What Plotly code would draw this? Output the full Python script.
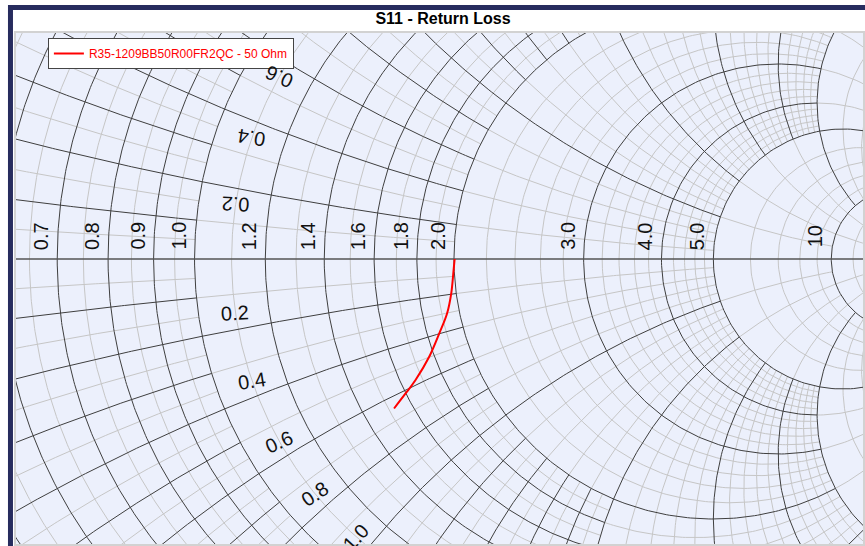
import numpy as np
import plotly.graph_objects as go

# ---------------- data ----------------
TITLE = "S11 - Return Loss"
SERIES_NAME = "R35-1209BB50R00FR2QC - 50 Ohm"
Z0 = 50.0
# impedance (ohms)
R_OHM = [100.2, 99.8, 98.6, 96.5, 93.2, 88.7, 83.4, 80.0, 76.1]
X_OHM = [0.0, -3.4, -9.7, -15.1, -19.8, -24.9, -28.9, -30.7, -32.5]

# Smith grid zones (normalised values) and grid steps inside each zone
ZONE_EDGES = [0, 1, 2, 5, 10, 20, 50, np.inf]
ZONE_MAJOR = [0.1, 0.2, 1, 5, 10, 10, 50]
ZONE_MINOR = [0.05, 0.1, 0.2, 1, 2, 5, 50]
R_LABELS = [0.7, 0.8, 0.9, 1.0, 1.2, 1.4, 1.6, 1.8, 2.0, 3.0, 4.0, 5.0, 10]
X_LABELS = [0.2, 0.4, 0.6, 0.8, 1.0]
X_LABEL_TILT = [3, 9, 24, 34, 48]   # text tilt (deg) of the reactance labels

# ---------------- view ----------------
W, H = 865, 546
PX = 780.0             # pixels per unit of reflection coefficient
CX, CY = 195.0, 259.0  # pixel position of gamma = 0
L, T, B = 16, 33, 544  # plot area edges (px)
XR = [(L - CX) / PX, (W - CX) / PX]
YR = [-(B - CY) / PX, (CY - T) / PX]

FONT = "Liberation Sans, Arial, sans-serif"
MAJOR_C = "#3f3f3f"
MINOR_C = "#c6c6c6"


def gam(r, x):
    z = np.asarray(r) + 1j * np.asarray(x)
    return (z - 1) / (z + 1)


def zone_of(v):
    i = 0
    for k in range(len(ZONE_EDGES) - 1):
        if ZONE_EDGES[k] <= v + 1e-9:
            i = k
    return i


def mult(v, s):
    q = v / s
    return abs(q - round(q)) < 1e-6


def visible(g):
    m = 0.01
    return np.any((g.real > XR[0] - m) & (g.real < XR[1] + m) &
                  (g.imag > YR[0] - m) & (g.imag < YR[1] + m))


def seg_r(r, xa, xb):
    ta, tb = np.arctan(xa / (r + 1)), np.arctan(xb / (r + 1))
    n = int(np.clip(abs(tb - ta) * 2 / (r + 1) * PX / 3, 8, 500))
    t = np.linspace(ta, tb, n)
    return gam(r, (r + 1) * np.tan(t))


def seg_x(v, ra, rb):
    s = np.sign(v)
    a = abs(v)
    ta, tb = np.arctan(a / (ra + 1)), np.arctan(a / (rb + 1))
    n = int(np.clip(abs(tb - ta) * 2 / a * PX / 3, 8, 500))
    t = np.linspace(ta, tb, n)
    r = a / np.maximum(np.tan(t), 1e-12) - 1
    return gam(r, s * a)


# candidate grid values
cands = set()
for i in range(len(ZONE_EDGES) - 2):
    s = ZONE_MINOR[i]
    for v in np.arange(ZONE_EDGES[i], ZONE_EDGES[i + 1] + s / 2, s):
        v = round(float(v), 6)
        if v > 0:
            cands.add(v)
cands = sorted(cands)

lines = {"major": ([], []), "minor": ([], [])}


def add(g, kind):
    if not visible(g):
        return
    xs, ys = lines[kind]
    xs.extend(np.round(g.real, 5).tolist() + [None])
    ys.extend(np.round(g.imag, 5).tolist() + [None])


nz = len(ZONE_EDGES) - 1
for v in cands:
    zv = zone_of(v)
    for j in range(nz):
        k = max(zv, j)
        if not mult(v, ZONE_MINOR[k]):
            continue
        kind = "major" if mult(v, ZONE_MAJOR[k]) else "minor"
        a, b = ZONE_EDGES[j], ZONE_EDGES[j + 1]
        # resistance circle v, reactance range of zone j
        add(seg_r(v, a, b), kind)
        add(seg_r(v, -b, -a), kind)
        # reactance arcs +-v, resistance range of zone j
        add(seg_x(v, a, b), kind)
        add(seg_x(-v, a, b), kind)

fig = go.Figure()
fig.add_trace(go.Scatter(x=lines["minor"][0], y=lines["minor"][1], mode="lines",
                         line=dict(color=MINOR_C, width=1), hoverinfo="skip",
                         showlegend=False))
fig.add_trace(go.Scatter(x=lines["major"][0], y=lines["major"][1], mode="lines",
                         line=dict(color=MAJOR_C, width=1), hoverinfo="skip",
                         showlegend=False))
# real axis
fig.add_trace(go.Scatter(x=[-1, 1], y=[0, 0], mode="lines",
                         line=dict(color="#555555", width=1.3), hoverinfo="skip",
                         showlegend=False))

# measured trace
gd = gam(np.array(R_OHM) / Z0, np.array(X_OHM) / Z0)
fig.add_trace(go.Scatter(x=gd.real, y=gd.imag, mode="lines", name=SERIES_NAME,
                         line=dict(color="#ff0000", width=2, shape="spline",
                                   smoothing=1.0),
                         showlegend=True))

LBL_FONT = dict(family=FONT, size=20, color="#111111")
ann = []
for r in R_LABELS:
    g = (r - 1) / (r + 1)
    txt = "%d" % r if r >= 10 else "%.1f" % r
    ann.append(dict(x=g, y=0, xref="x", yref="y", text=txt, showarrow=False,
                    textangle=-90, xanchor="center", yanchor="middle",
                    xshift=-16, yshift=23, font=LBL_FONT))

OFF = 16 / PX
for v, tilt in zip(X_LABELS, X_LABEL_TILT):
    for s in (-1, 1):
        g = complex(gam(1.1, s * v))
        c = complex(1, s / v)
        n = (g - c) / abs(g - c)
        p = g + n * OFF
        ang = -tilt if s < 0 else 180 + tilt
        ann.append(dict(x=p.real, y=p.imag, xref="x", yref="y",
                        text="%.1f" % v, showarrow=False, textangle=ang,
                        xanchor="center", yanchor="middle", font=LBL_FONT))

NAVY = "#272c5e"
shapes = [dict(type="rect", xref="paper", yref="paper",
               x0=10.5 / W, x1=1.2, y0=-0.2, y1=1 - 7.5 / H,
               line=dict(color=NAVY, width=5), fillcolor="rgba(0,0,0,0)",
               layer="above")]

fig.update_layout(
    width=W, height=H, margin=dict(l=0, r=0, t=0, b=0, pad=0),
    paper_bgcolor="white", plot_bgcolor="#ecf0fc",
    title=dict(text="<b>" + TITLE + "</b>", x=443 / W, y=1 - 18.5 / H,
               xanchor="center", yanchor="middle",
               font=dict(family=FONT, size=16, color="#000000")),
    xaxis=dict(domain=[L / W, 1], range=XR, showgrid=False, zeroline=False,
               showticklabels=False, ticks="", showline=True, mirror=True,
               linecolor="#d2d2d2", linewidth=2, fixedrange=True),
    yaxis=dict(domain=[(H - B) / H, (H - T) / H], range=YR, showgrid=False,
               zeroline=False, showticklabels=False, ticks="", showline=True,
               mirror=True, linecolor="#d2d2d2", linewidth=2, fixedrange=True),
    legend=dict(x=48 / W, y=1 - 38 / H, xanchor="left", yanchor="top",
                bgcolor="white", bordercolor="#444444", borderwidth=1,
                font=dict(family=FONT, size=12, color="#ff0000"),
                itemwidth=30, tracegroupgap=0),
    annotations=ann, shapes=shapes, hovermode=False,
)

fig.write_html("out.html")
